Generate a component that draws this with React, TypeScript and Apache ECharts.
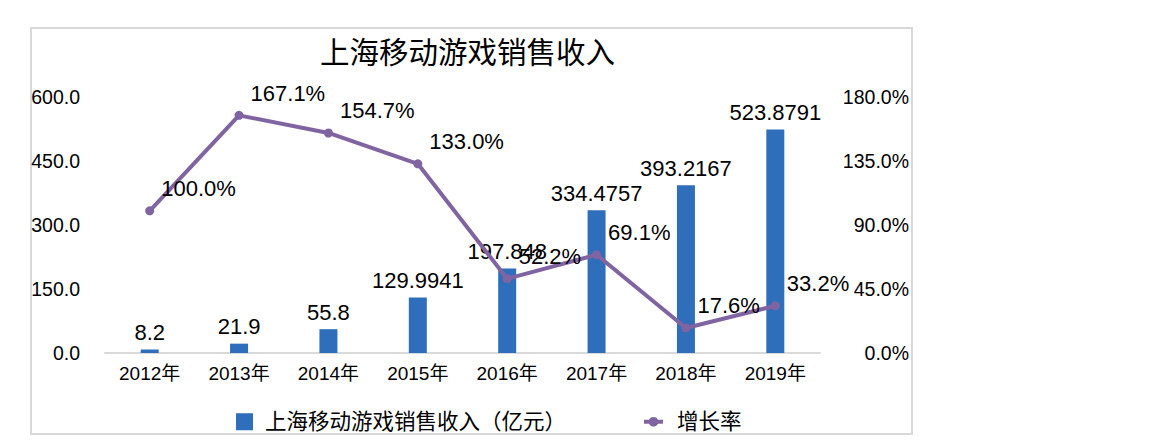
import React, { useEffect, useRef } from "react";
import * as echarts from "echarts";

const categories = ["2012年", "2013年", "2014年", "2015年", "2016年", "2017年", "2018年", "2019年"];
const revenue = [8.2, 21.9, 55.8, 129.9941, 197.848, 334.4757, 393.2167, 523.8791];
const growth = [100.0, 167.1, 154.7, 133.0, 52.2, 69.1, 17.6, 33.2];
const titleText = "上海移动游戏销售收入";
const revenueName = "上海移动游戏销售收入（亿元）";
const growthName = "增长率";

const FONT = "'Liberation Sans', 'Noto Sans CJK SC', sans-serif";
const BAR = "#2F6EBA";
const LINE = "#8064A2";

export default function App() {
  const ref = useRef<HTMLDivElement>(null);
  useEffect(() => {
    if (!ref.current) return;
    const chart = echarts.init(ref.current, undefined, { renderer: "svg" });
    chart.setOption({
      animation: false,
      textStyle: { fontFamily: FONT, color: "#000" },
      title: {
        text: titleText,
        left: 315,
        top: 33,
        textStyle: { fontFamily: FONT, fontSize: 29.5, fontWeight: "normal", color: "#000" },
      },
      graphic: [
        {
          type: "rect",
          shape: { x: 31, y: 28, width: 881, height: 406 },
          style: { fill: "none", stroke: "#d9d9d9", lineWidth: 2 },
          silent: true,
        },
      ],
      legend: [
        {
          left: 231,
          top: 406,
          itemWidth: 17,
          itemHeight: 17,
          textStyle: { fontFamily: FONT, fontSize: 21.5, color: "#000", padding: [0, 0, 0, 7] },
          data: [{ name: revenueName, icon: "rect" }],
        },
        {
          left: 637,
          top: 406,
          itemWidth: 19,
          itemHeight: 12,
          lineStyle: { width: 4 },
          textStyle: { fontFamily: FONT, fontSize: 21.5, color: "#000", padding: [0, 0, 0, 9] },
          data: [{ name: growthName }],
        },
      ],
      grid: { left: 105, right: 334, top: 97, bottom: 95 },
      xAxis: {
        type: "category",
        data: categories,
        axisLine: { lineStyle: { color: "#d9d9d9", width: 2 } },
        axisTick: { show: false },
        axisLabel: { fontFamily: FONT, fontSize: 19, color: "#000", margin: 11 },
      },
      yAxis: [
        {
          type: "value",
          min: 0,
          max: 600,
          interval: 150,
          splitLine: { show: false },
          axisLine: { show: false },
          axisTick: { show: false },
          axisLabel: {
            fontFamily: FONT,
            fontSize: 19.5,
            color: "#000",
            margin: 25,
            formatter: (v: number) => v.toFixed(1),
          },
        },
        {
          type: "value",
          min: 0,
          max: 180,
          interval: 45,
          position: "right",
          splitLine: { show: false },
          axisLine: { show: false },
          axisTick: { show: false },
          axisLabel: {
            fontFamily: FONT,
            fontSize: 19.5,
            color: "#000",
            align: "right",
            margin: 89,
            formatter: (v: number) => v.toFixed(1) + "%",
          },
        },
      ],
      series: [
        {
          name: revenueName,
          type: "bar",
          data: revenue,
          barWidth: 18,
          itemStyle: { color: BAR },
          label: {
            show: true,
            position: "top",
            distance: 6,
            fontFamily: FONT,
            fontSize: 22,
            color: "#000",
            formatter: (p: any) => String(p.value),
          },
        },
        {
          name: growthName,
          type: "line",
          yAxisIndex: 1,
          data: growth,
          symbol: "circle",
          symbolSize: 9,
          lineStyle: { color: LINE, width: 4 },
          itemStyle: { color: LINE },
          label: {
            show: true,
            position: "right",
            distance: 7,
            offset: [0, -22],
            fontFamily: FONT,
            fontSize: 22,
            color: "#000",
            formatter: (p: any) => Number(p.value).toFixed(1) + "%",
          },
        },
      ],
    });
    return () => chart.dispose();
  }, []);
  return (
    <div
      ref={ref}
      style={{ position: "fixed", left: 0, top: 0, width: 1154, height: 448, background: "#fff" }}
    />
  );
}
